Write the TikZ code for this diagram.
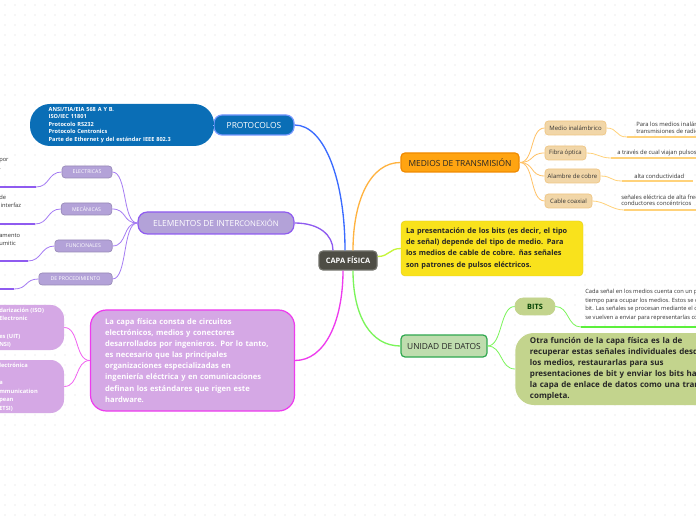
\documentclass[tikz,border=0pt]{standalone}
\usepackage{fontspec}
\setmainfont{Open Sans}
\usetikzlibrary{positioning}
\definecolor{capagray}{HTML}{4E4D45}
\definecolor{protoblue}{HTML}{0A6EB6}
\definecolor{protoline}{HTML}{3A6BFF}
\definecolor{elemfill}{HTML}{B3A2D8}
\definecolor{elemline}{HTML}{8F5BF0}
\definecolor{pinkfill}{HTML}{D5A8E5}
\definecolor{pinkline}{HTML}{EE3BEE}
\definecolor{medfill}{HTML}{FFA411}
\definecolor{medborder}{HTML}{F08A00}
\definecolor{medline}{HTML}{FFB340}
\definecolor{tanfill}{HTML}{F1D6A8}
\definecolor{tanborder}{HTML}{EFC582}
\definecolor{leafline}{HTML}{FFD27A}
\definecolor{yelfill}{HTML}{F9E21C}
\definecolor{limeline}{HTML}{C6F53A}
\definecolor{datfill}{HTML}{BFDDAE}
\definecolor{datborder}{HTML}{2FA84F}
\definecolor{datline}{HTML}{7BF55A}
\definecolor{olivefill}{HTML}{C3D48D}
\definecolor{bitline}{HTML}{5CF03C}
\definecolor{dotgray}{HTML}{D9D9D9}

\begin{document}
\begin{tikzpicture}[x=0.75pt, y=-0.75pt,
  topic/.style={rectangle, draw, rounded corners=3pt, line width=0.9pt, align=center, inner sep=0pt},
  subtopic/.style={rectangle, draw, rounded corners=2.5pt, line width=0.5pt, align=center, inner sep=0pt},
  elemsub/.style={subtopic, fill=elemfill, draw=elemfill!85!black, text=white, font=\fontsize{3.9}{5}\selectfont, minimum height=9pt},
  medsub/.style={subtopic, fill=tanfill, draw=tanborder, text=black!80, font=\fontsize{4.5}{6}\selectfont, minimum height=10.5pt},
  note/.style={rectangle, rounded corners=10pt, align=left, inner sep=0pt},
  leaf/.style={align=left, inner sep=0pt, text=black!80, font=\fontsize{4.3}{6.2}\selectfont},
  branch/.style={line width=1pt},
  twig/.style={line width=0.6pt}]

\useasboundingbox (0,0) rectangle (696,520);
\clip (0,0) rectangle (696,520);
\fill[white] (0,0) rectangle (696,520);
\foreach \gx in {0,...,69} {
  \foreach \gy in {0,...,52} {
    \fill[dotgray] (\gx*10+5,\gy*10+5) circle (0.45pt);
  }
}

% centro
\node[topic, fill=capagray, draw=capagray!80, text=white, font=\fontsize{5.6}{7}\selectfont\bfseries, minimum width=43.5pt, minimum height=14.25pt] (capa) at (348,260.5) {CAPA FÍSICA};

% protocolos
\node[topic, fill=protoblue, draw=protoline!70, text=white, font=\fontsize{6.3}{8}\selectfont, minimum width=60pt, minimum height=15pt, rounded corners=6pt] (proto) at (254,125) {PROTOCOLOS};
\node[note, fill=protoblue, text=white, font=\fontsize{4.2}{5.6}\selectfont\bfseries, text width=110pt, inner xsep=14pt, minimum height=31.5pt, rounded corners=15pt] (protolist) at (122,125) {ANSI/TIA/EIA 568 A Y B.\\ISO/IEC 11801\\Protocolo RS232\\Protocolo Centronics\\Parte de Ethernet y del estándar IEEE 802.3};
\draw[branch, protoline] ([xshift=-2.25pt]capa.north) .. controls +(0,-70) and +(30,0) .. (proto.east);
\draw[twig, protoline!50] (proto.west) -- (protolist.east);

% elementos de interconexion
\node[topic, fill=elemfill, draw=elemline, text=white, font=\fontsize{6.3}{8}\selectfont, minimum width=117pt, minimum height=16.5pt, rounded corners=7pt] (elem) at (216,223) {ELEMENTOS DE INTER{\fontsize{5.8}{8}\selectfont\raisebox{-0.4pt}{CONEXIÓN}}};
\draw[branch, elemline] ([xshift=-11.25pt]capa.north) .. controls +(0,-15) and +(25,0) .. (elem.east);

\node[elemsub, minimum width=37.5pt] (elec) at (87,172) {ELECTRICAS};
\node[elemsub, minimum width=38pt] (mec) at (86.5,209) {MECÁNICAS};
\node[elemsub, minimum width=43pt] (func) at (83.5,246) {FUNCIONALES};
\node[elemsub, minimum width=55pt] (proc) at (75.5,279) {DE PROCEDIMIENTO};
\foreach \s in {elec, mec, func, proc}
  \draw[twig, elemline!80] (elem.west) .. controls +(-15,0) and +(15,0) .. (\s.east);

\coordinate (elecend) at (36,187);
\coordinate (mecend) at (35,224);
\coordinate (funcend) at (28,261);
\coordinate (procend) at (14,289);
\draw[twig, elemline!80] (elec.west) .. controls +(-14,0) and +(14,0) .. (elecend);
\draw[twig, elemline!80] (mec.west) .. controls +(-14,0) and +(14,0) .. (mecend);
\draw[twig, elemline!80] (func.west) .. controls +(-14,0) and +(14,0) .. (funcend);
\draw[twig, elemline!80] (proc.west) .. controls +(-14,0) and +(14,0) .. (procend);
\coordinate (elecfar) at (-5,187);
\coordinate (mecfar) at (-5,224);
\coordinate (funcfar) at (-5,261);
\coordinate (procfar) at (-5,289);
\draw[elemline, line width=1.5pt] (elecend) -- (elecfar);
\draw[elemline, line width=1.5pt] (mecend) -- (mecfar);
\draw[elemline, line width=1.5pt] (funcend) -- (funcfar);
\draw[elemline, line width=1.5pt] (procend) -- (procfar);
\node[leaf, anchor=north west] (electxt) at (-1,158) {por\\.};
\node[leaf, anchor=north west] (mectxt) at (-1,195) {de\\\ interfaz};
\node[leaf, anchor=north west] (functxt) at (-1,233) {amento\\umitic};

% nota rosa
\node[note, fill=pinkfill, draw=pinkline, line width=0.9pt, text=white, font=\fontsize{5.7}{8.3}\selectfont\bfseries, text width=131pt, inner xsep=11pt, minimum height=75.75pt, rounded corners=12pt] (capanote) at (192.5,360.5) {La capa física consta de circuitos\\electrónicos, medios y conectores\\desarrollados por ingenieros. Por lo tanto,\\es necesario que las principales\\organizaciones especializadas en\\ingeniería eléctrica y en comunicaciones\\definan los estándares que rigen este\\hardware.};
\draw[branch, pinkline] ([xshift=-3.75pt]capa.south) .. controls +(0,50) and +(30,0) .. (capanote.east);

\node[note, fill=pinkfill, minimum width=93pt, minimum height=33.75pt] (orgsbox1) at (2,327.5) {};
\node[note, fill=pinkfill, minimum width=93pt, minimum height=39.75pt] (orgsbox2) at (2,386.5) {};
\node[leaf, text=white, font=\fontsize{4.3}{6.5}\selectfont\bfseries, anchor=north west] (orgstxt1) at (-1,307.5) {darización (ISO)\\Electronic\\\mbox{}\\es (UIT)\\NSI)};
\node[leaf, text=white, font=\fontsize{4.3}{6.5}\selectfont\bfseries, anchor=north west] (orgstxt2) at (-1,362.5) {lectrónica\\\mbox{}\\a\\mmunication\\pean\\ETSI)};
\draw[twig, pinkline!80] (capanote.west) .. controls +(-15,0) and +(15,0) .. (orgsbox1.east);
\draw[twig, pinkline!80] (capanote.west) .. controls +(-15,0) and +(15,0) .. (orgsbox2.east);

% medios de transmision
\node[topic, fill=medfill, draw=medborder, text=black!85, font=\fontsize{6.3}{8}\selectfont, minimum width=88.5pt, minimum height=14.25pt] (medios) at (460,162.5) {MEDIOS DE TRANSMISIÓN};
\draw[branch, medline] ([xshift=3.75pt]capa.north) .. controls +(0,-50) and +(-30,0) .. (medios.west);

\node[medsub, minimum width=45.75pt] (inal) at (575.5,128) {Medio inalámbrico};
\node[medsub, minimum width=30.75pt] (fibra) at (565.5,153) {Fibra óptica};
\node[medsub, minimum width=41.25pt] (cobre) at (572.5,176) {Alambre de cobre};
\node[medsub, minimum width=35.25pt] (coax) at (568.5,201) {Cable coaxial};
\foreach \s in {inal, fibra, cobre, coax}
  \draw[twig, medline!80] (medios.east) .. controls +(15,0) and +(-15,0) .. (\s.west);

\coordinate (inalend) at (627,137);
\coordinate (fibraend) at (611,158);
\coordinate (cobreend) at (622,181);
\coordinate (coaxend) at (624,210);
\coordinate (inalfar) at (700,137);
\coordinate (fibrafar) at (700,158);
\coordinate (cobrefar) at (693,181);
\coordinate (coaxfar) at (700,210);
\draw[twig, leafline] (inal.east) .. controls +(12,0) and +(-12,0) .. (inalend);
\draw[twig, leafline] (fibra.east) .. controls +(12,0) and +(-12,0) .. (fibraend);
\draw[twig, leafline] (cobre.east) .. controls +(12,0) and +(-12,0) .. (cobreend);
\draw[twig, leafline] (coax.east) .. controls +(12,0) and +(-12,0) .. (coaxend);
\draw[leafline, line width=1pt] (inalend) -- (inalfar);
\draw[leafline, line width=1pt] (fibraend) -- (fibrafar);
\draw[leafline, line width=1pt] (cobreend) -- (cobrefar);
\draw[leafline, line width=1pt] (coaxend) -- (coaxfar);
\node[leaf, font=\fontsize{4.4}{4.9}\selectfont, anchor=west] (inaltxt) at (636,128) {Para los medios inalámbricos, los bits son\\transmisiones de radio.};
\node[leaf, font=\fontsize{4.4}{4.9}\selectfont, anchor=west] (fibratxt) at (617,153) {a través de cual viajan pulsos de luz};
\node[leaf, font=\fontsize{4.4}{4.9}\selectfont, anchor=west] (cobretxt) at (634,176) {alta conductividad};
\node[leaf, font=\fontsize{4.4}{4.9}\selectfont, anchor=west] (coaxtxt) at (621,200.5) {señales eléctrica de alta frecuencia\\conductores concéntricos};

% nota amarilla
\node[note, fill=yelfill, draw=yelfill!90!black, line width=0.3pt, text=black!85, font=\fontsize{5.5}{8.3}\selectfont\bfseries, text width=129pt, inner xsep=3.75pt, minimum height=41.25pt, rounded corners=3pt] (bitsnote) at (492,248.5) {La presentación de los bits (es decir, el tipo\\de señal) depende del tipo de medio. Para\\los medios de cable de cobre. ñas señales\\son patrones de pulsos eléctricos.};
\draw[branch, limeline] ([yshift=3pt]capa.east) .. controls +(12,0) and +(-12,0) .. (bitsnote.west);

% unidad de datos
\node[topic, fill=datfill, draw=datborder, text=black!85, font=\fontsize{6.3}{8}\selectfont, minimum width=64.5pt, minimum height=16.5pt] (unidad) at (444,346) {UNIDAD DE DATOS};
\draw[branch, datline] ([xshift=3.75pt]capa.south) .. controls +(0,45) and +(-30,0) .. (unidad.west);

\node[subtopic, fill=olivefill, draw=olivefill, text=green!25!black, font=\fontsize{5.5}{7}\selectfont\bfseries, minimum width=30pt, minimum height=12.75pt, rounded corners=6pt] (bits) at (535,306.5) {BITS};
\node[note, fill=olivefill, text=black!85, font=\fontsize{6}{8.3}\selectfont\bfseries, text width=160pt, inner xsep=11pt, minimum height=54pt, rounded corners=14pt, anchor=west] (datanote) at (515,369) {Otra función de la capa física es la de\\recuperar estas señales individuales desde\\los medios, restaurarlas para sus\\presentaciones de bit y enviar los bits hacia\\la capa de enlace de datos como una trama\\completa.};
\draw[twig, datline] (unidad.east) .. controls +(15,0) and +(-15,0) .. (bits.west);
\draw[twig, datline] (unidad.east) .. controls +(15,0) and +(-15,0) .. (datanote.west);

\coordinate (bitsend) at (581,327);
\coordinate (bitsfar) at (700,327);
\draw[twig, datline] (bits.east) .. controls +(14,0) and +(-14,0) .. (bitsend);
\draw[bitline, line width=1.5pt] (bitsend) -- (bitsfar);
\node[leaf, font=\fontsize{4.3}{6.4}\selectfont, anchor=north west] (bitstxt) at (585,289) {Cada señal en los medios cuenta con un período de\\tiempo para ocupar los medios. Estos se denominan\\bit. Las señales se procesan mediante el dispositivo y\\se vuelven a enviar para representarlas como bits.};
\end{tikzpicture}
\end{document}
